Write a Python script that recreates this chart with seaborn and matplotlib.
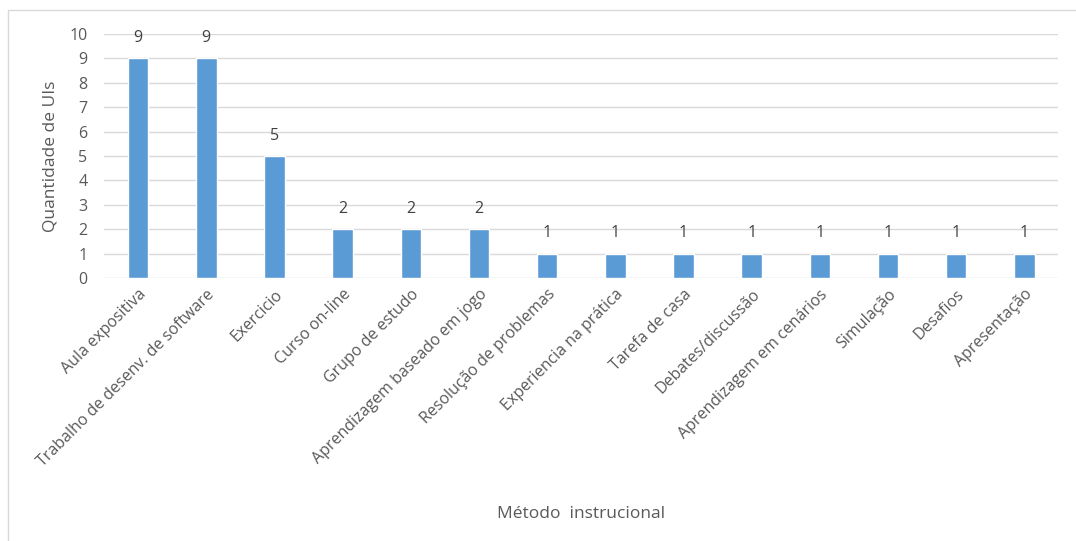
import matplotlib.pyplot as plt
import matplotlib.patches as patches
import numpy as np
import seaborn as sns
import pandas as pd

# dados
metodos = ['Aula expositiva', 'Trabalho de desenv. de software', 'Exercicio',
           'Curso on-line', 'Grupo de estudo', 'Aprendizagem baseado em jogo',
           'Resolução de problemas', 'Experiencia na prática', 'Tarefa de casa',
           'Debates/discussão', 'Aprendizagem em cenários', 'Simulação',
           'Desafios', 'Apresentação']
quantidade = [9, 9, 5, 2, 2, 2, 1, 1, 1, 1, 1, 1, 1, 1]

df = pd.DataFrame({'Metodo': metodos, 'Quantidade': quantidade})

sns.set_style('white')
plt.rcParams['font.family'] = ['Open Sans', 'DejaVu Sans']
cinza = '#595959'

fig = plt.figure(figsize=(10.76, 5.41), dpi=100)
ax = fig.add_axes([0.0967, 0.486, 0.887, 0.451])

# moldura do grafico
fig.patches.append(patches.Rectangle((8 / 1076, -0.1), 1.2, 1 - 10 / 541 + 0.1,
                                     transform=fig.transFigure, fill=False,
                                     edgecolor='#d9d9d9', lw=1))

sns.barplot(data=df, x='Metodo', y='Quantidade', color='#5b9bd5',
            width=0.3, ax=ax, saturation=1)

ax.set_ylim(0, 10)
ax.set_yticks(range(0, 11))
ax.yaxis.grid(True, color='#d9d9d9', lw=1)
ax.set_axisbelow(True)
for s in ax.spines.values():
    s.set_visible(False)

ax.bar_label(ax.containers[0], padding=9, fontsize=11.5, color='#404040')

ax.tick_params(axis='y', length=0, pad=12, labelsize=11.5, labelcolor=cinza)
ax.tick_params(axis='x', length=0, pad=6, labelsize=11.5, labelcolor=cinza)
for lbl in ax.get_xticklabels():
    lbl.set_rotation(45)
    lbl.set_ha('right')
    lbl.set_va('top')
    lbl.set_rotation_mode('anchor')

ax.set_xlabel('Método  instrucional', fontsize=12.5, color=cinza, labelpad=26)
ax.set_ylabel('Quantidade de UIs', fontsize=12.5, color=cinza, labelpad=8)

plt.savefig('out.png', dpi=100)
